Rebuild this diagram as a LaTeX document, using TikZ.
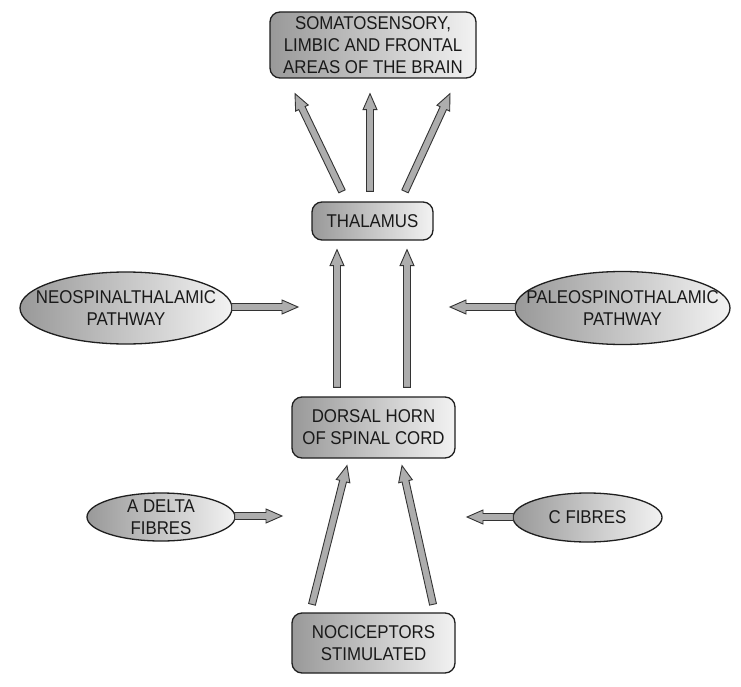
\documentclass[tikz,border=0pt]{standalone}
\usepackage{fontspec}
\setmainfont{Liberation Sans}[FakeStretch=0.91]
\usetikzlibrary{calc,shapes.geometric}
\tikzset{
  x=1pt, y=-1pt,
  every node/.style={font=\fontsize{18.5}{22}\selectfont, text=black!90, align=center, inner sep=0pt},
  rbox/.style={rectangle, rounded corners=10pt, draw=black!88, line width=1.3pt,
     left color=black!40, right color=black!5},
  oval/.style={ellipse, draw=black!88, line width=1.3pt,
     left color=black!40, right color=black!5},
  fat/.style={fill=black!32, draw=black!80, line width=0.9pt, line join=miter},
}
\newcommand\fatarrow[2]{%
  \draw[fat] let \p1=(#1), \p2=(#2), \p3=($(\p2)!16pt!(\p1)$) in
    ($(\p1)!3.5pt!90:(\p2)$) -- ($(\p3)!3.5pt!-90:(\p1)$) -- ($(\p3)!7pt!-90:(\p1)$)
    -- (\p2) -- ($(\p3)!7pt!90:(\p1)$) -- ($(\p3)!3.5pt!90:(\p1)$)
    -- ($(\p1)!3.5pt!-90:(\p2)$) -- cycle;}
\begin{document}
\begin{tikzpicture}
\useasboundingbox[fill=white] (0,0) rectangle (741,687);

\node[rbox, minimum width=206pt, minimum height=66pt] (top) at (373,45)
  {SOMATOSENSORY,\\LIMBIC AND FRONTAL\\AREAS OF THE BRAIN};
\node[rbox, minimum width=121pt, minimum height=38pt] (thal) at (372.5,221) {THALAMUS};
\node[rbox, minimum width=163pt, minimum height=61pt] (dorsal) at (373.5,427.5)
  {DORSAL HORN\\OF SPINAL CORD};
\node[rbox, minimum width=163pt, minimum height=60pt] (noci) at (373.5,643)
  {NOCICEPTORS\\STIMULATED};

\node[oval, minimum width=212pt, minimum height=72pt] (neo) at (126,308) {};
\node (neotext) at (neo) {NEOSPINALTHALAMIC\\PATHWAY};
\node[oval, minimum width=215pt, minimum height=73pt] (paleo) at (622.5,308) {};
\node (paleotext) at (paleo) {PALEOSPINOTHALAMIC\\PATHWAY};
\node[oval, minimum width=148pt, minimum height=48pt] (adelta) at (161,517) {};
\node (adeltatext) at (adelta) {A DELTA\\FIBRES};
\node[oval, minimum width=149pt, minimum height=49pt] (cfib) at (587.5,517.5) {};
\node (cfibtext) at (cfib) {C FIBRES};

\coordinate (neoend) at (298,307);
\coordinate (paleoend) at (450,307);
\coordinate (adeltaend) at (282,516);
\coordinate (cfibend) at (467,517);

% thalamus -> brain areas
\fatarrow{$(thal.north)+(-30.5,-10)$}{$(top.south)+(-78,15)$}
\fatarrow{$(thal.north)+(-2.5,-10)$}{$(top.south)+(-3,15)$}
\fatarrow{$(thal.north)+(32.5,-10)$}{$(top.south)+(77,15)$}
% dorsal horn -> thalamus
\fatarrow{$(dorsal.north)+(-36.5,-9)$}{$(thal.south)+(-35.5,9)$}
\fatarrow{$(dorsal.north)+(33.5,-9)$}{$(thal.south)+(34.5,9)$}
% nociceptors -> dorsal horn
\fatarrow{$(noci.north)+(-61.5,-8)$}{$(dorsal.south)+(-26.5,7)$}
\fatarrow{$(noci.north)+(59.5,-8)$}{$(dorsal.south)+(28.5,7)$}
% side inputs
\fatarrow{$(neo.east)+(-1,-1)$}{neoend}
\fatarrow{$(paleo.west)+(1,-1)$}{paleoend}
\fatarrow{$(adelta.east)+(-1,-1)$}{adeltaend}
\fatarrow{$(cfib.west)+(1,-0.5)$}{cfibend}
\end{tikzpicture}
\end{document}
